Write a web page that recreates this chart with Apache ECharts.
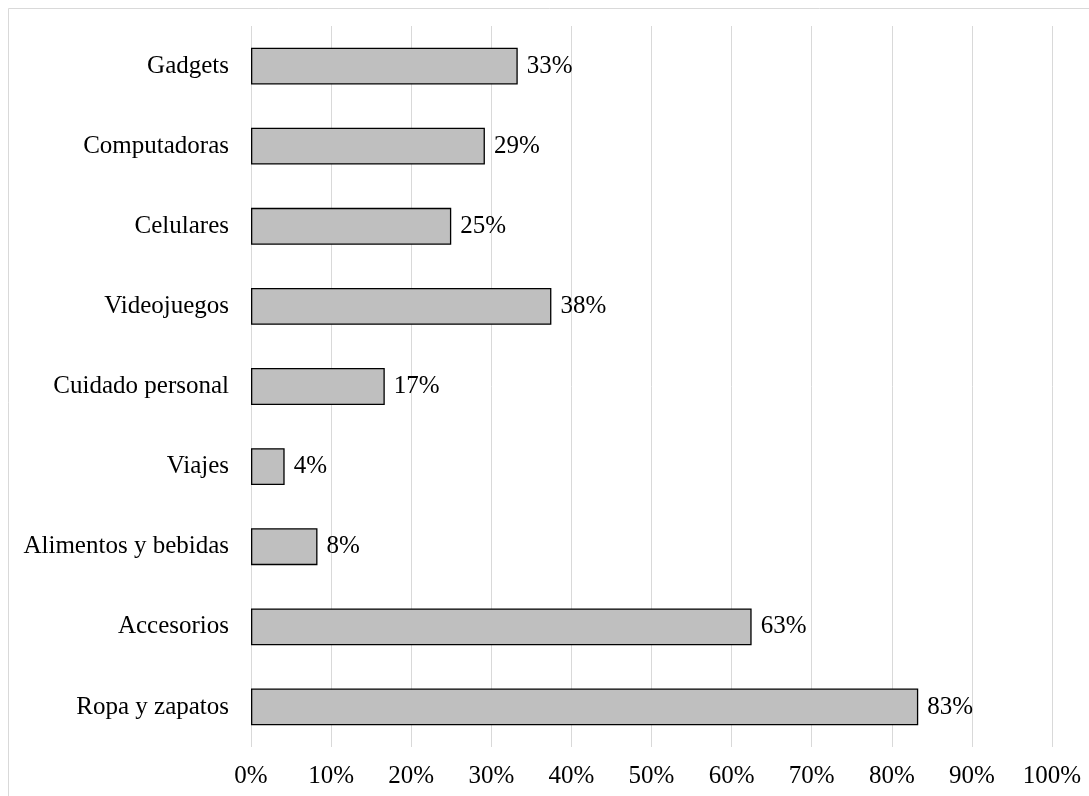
<!DOCTYPE html>
<html>
<head>
<meta charset="utf-8">
<script src="https://cdn.jsdelivr.net/npm/echarts@6/dist/echarts.min.js"></script>
<style>html,body{margin:0;padding:0;background:#fff;}#c{width:1089px;height:796px;}</style>
</head>
<body>
<div id="c"></div>
<script>
var categories = ["Gadgets","Computadoras","Celulares","Videojuegos","Cuidado personal","Viajes","Alimentos y bebidas","Accesorios","Ropa y zapatos"];
var values = [33.3, 29.2, 25.0, 37.5, 16.7, 4.2, 8.3, 62.5, 83.3];
var xTicks = [0,10,20,30,40,50,60,70,80,90,100];

var font = "'Liberation Serif','Times New Roman',serif";
var chart = echarts.init(document.getElementById('c'));
chart.setOption({
  animation: false,
  backgroundColor: '#fff',
  graphic: [{
    type: 'rect', shape: {x: 8.5, y: 8.5, width: 1200, height: 900},
    style: {fill: 'none', stroke: '#d9d9d9', lineWidth: 1}, silent: true
  }],
  grid: {left: 251, right: 37, top: 26, bottom: 49, containLabel: false},
  xAxis: {
    type: 'value', min: xTicks[0], max: xTicks[xTicks.length-1], interval: 10,
    axisLine: {show: false}, axisTick: {show: false},
    splitLine: {show: true, lineStyle: {color: '#d9d9d9', width: 1}},
    axisLabel: {formatter: function(v){return v + '%';}, color: '#000', fontFamily: font, fontSize: 25, margin: 17}
  },
  yAxis: {
    type: 'category', data: categories, inverse: true,
    axisLine: {show: false}, axisTick: {show: false},
    axisLabel: {color: '#000', fontFamily: font, fontSize: 25, margin: 22}
  },
  series: [{
    type: 'bar', data: values, barWidth: '46%',
    itemStyle: {color: '#bfbfbf', borderColor: '#000', borderWidth: 1.3},
    label: {show: true, position: 'right', distance: 9, color: '#000', fontFamily: font, fontSize: 25,
      formatter: function(p){return Math.round(p.value) + '%';}}
  }]
});
</script>
</body>
</html>
